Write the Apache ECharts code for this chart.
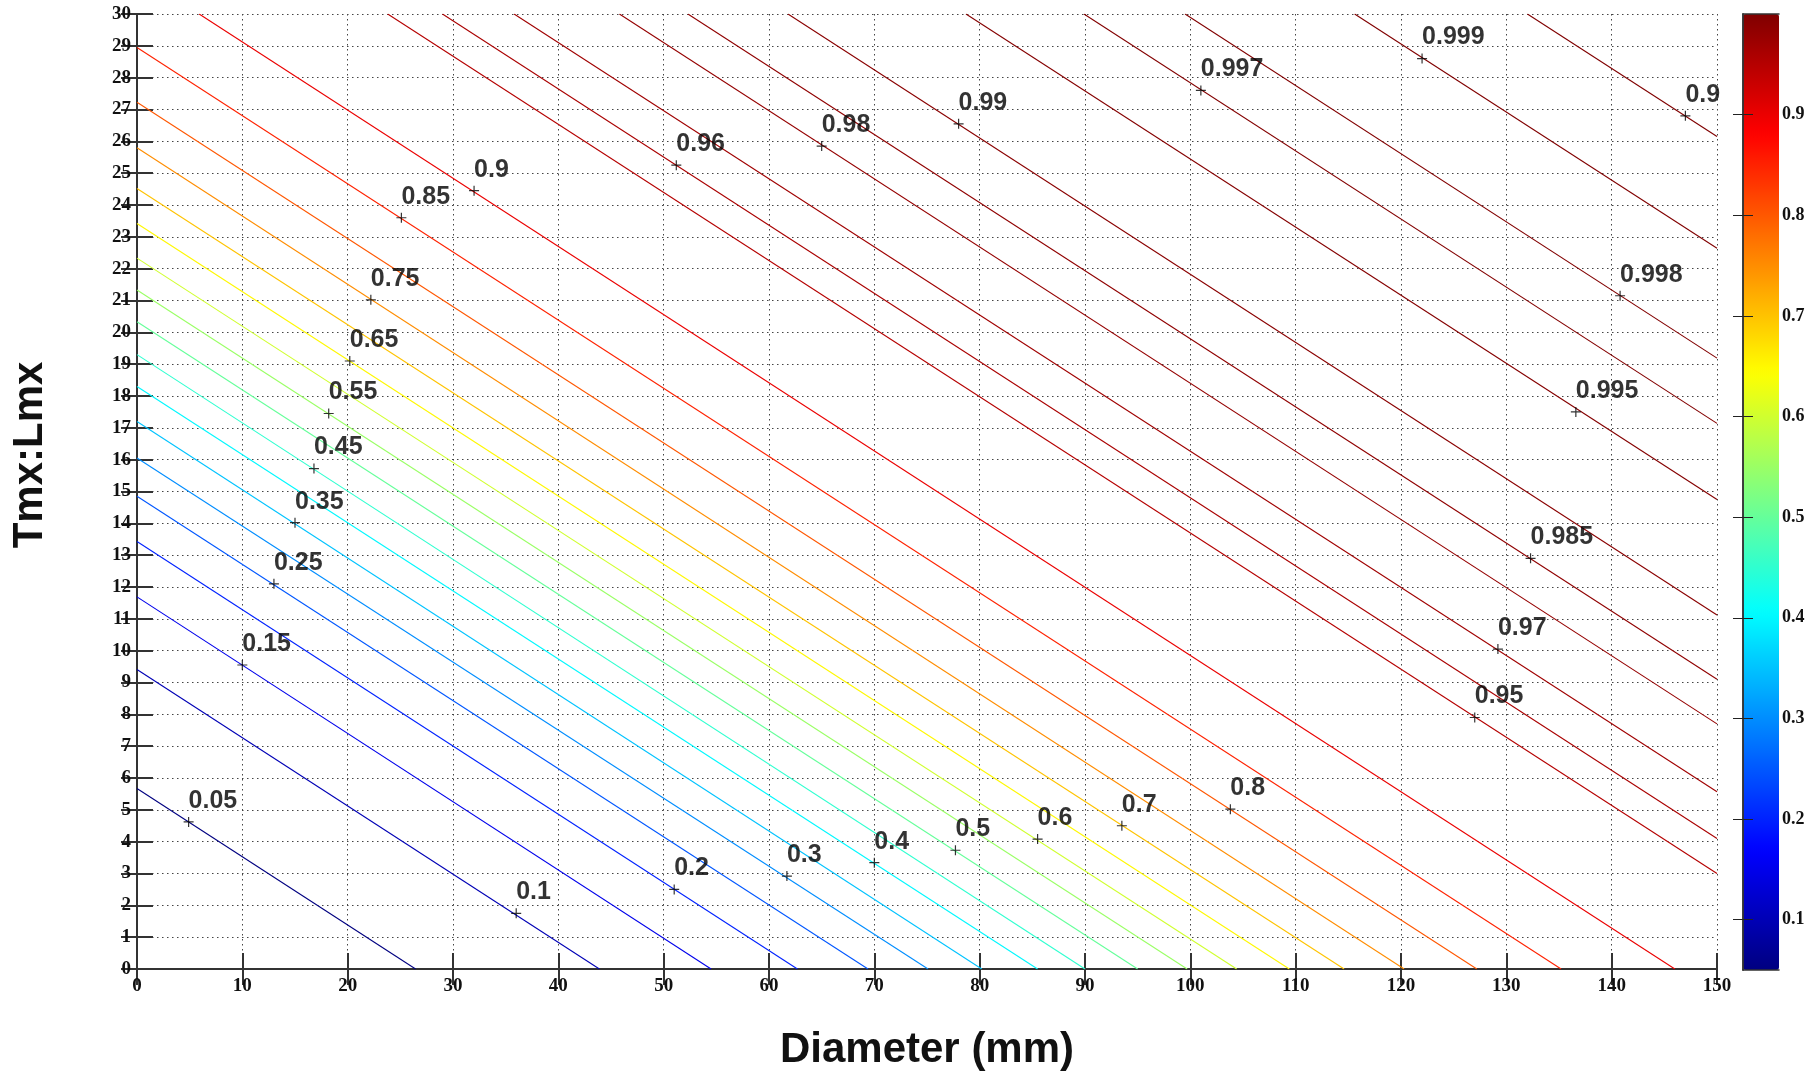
<!DOCTYPE html>
<html>
<head>
<meta charset="utf-8">
<title>Tmx:Lmx vs Diameter</title>
<script src="https://cdn.jsdelivr.net/npm/echarts@6/dist/echarts.min.js"></script>
<style>
  html, body { margin: 0; padding: 0; background: #fff; }
  #main { width: 1813px; height: 1075px; }
</style>
</head>
<body>
<div id="main"></div>
<script>
// contour levels, lowest to highest
const levels = [0.05, 0.1, 0.15, 0.2, 0.25, 0.3, 0.35, 0.4, 0.45, 0.5, 0.55, 0.6, 0.65, 0.7, 0.75, 0.8, 0.85, 0.9,
  0.95, 0.96, 0.97, 0.98, 0.985, 0.99, 0.995, 0.997, 0.998, 0.999, 0.9995];

// where each contour enters / leaves the plot box, [diameter, Tmx:Lmx]
const lineStart = [
  [0, 5.67], [0, 9.41], [0, 11.69], [0, 13.43], [0, 14.85], [0, 16.05], [0, 17.2], [0, 18.3], [0, 19.3],
  [0, 20.33], [0, 21.33], [0, 22.33], [0, 23.42], [0, 24.52], [0, 25.8], [0, 27.23], [0, 28.95], [5.9, 30],
  [23.8, 30], [29.0, 30], [35.8, 30], [45.8, 30], [52.3, 30], [61.8, 30], [78.7, 30], [89.9, 30], [99.5, 30],
  [115.6, 30], [132.0, 30]
];
const lineEnd = [
  [26.45, 0], [43.9, 0], [54.5, 0], [62.7, 0], [69.4, 0], [75.1, 0], [80.2, 0], [85.5, 0], [90.0, 0],
  [95.0, 0], [99.7, 0], [104.4, 0], [109.4, 0], [114.6, 0], [120.3, 0], [127.2, 0], [135.2, 0], [146.0, 0],
  [150, 3.0], [150, 4.1], [150, 5.57], [150, 7.7], [150, 9.1], [150, 11.12], [150, 14.75], [150, 17.14],
  [150, 19.19], [150, 22.64], [150, 26.15]
];

// inline contour labels ("0.9" at the far right is cut off by the frame in the original)
const labelText = ['0.05', '0.1', '0.15', '0.2', '0.25', '0.3', '0.35', '0.4', '0.45', '0.5', '0.55', '0.6', '0.65',
  '0.7', '0.75', '0.8', '0.85', '0.9', '0.95', '0.96', '0.97', '0.98', '0.985', '0.99', '0.995', '0.997', '0.998',
  '0.999', '0.9'];
const labelPos = [
  [4.9, 4.62], [36, 1.75], [10, 9.55], [51, 2.5], [13, 12.1], [61.7, 2.92], [15, 14.02], [70, 3.34], [16.8, 15.72],
  [77.7, 3.73], [18.2, 17.45], [85.5, 4.08], [20.2, 19.1], [93.5, 4.5], [22.2, 21.02], [103.8, 5.02], [25.1, 23.6],
  [32, 24.45], [127, 7.9], [51.2, 25.25], [129.2, 10.05], [65, 25.85], [132.3, 12.9], [78, 26.55], [136.6, 17.5],
  [101, 27.6], [140.8, 21.15], [122, 28.6], [147, 26.8]
];

const colorbarTicks = [0.1, 0.2, 0.3, 0.4, 0.5, 0.6, 0.7, 0.8, 0.9];
const cbMin = 0.05;
const cbMax = 1.0;

// matlab "jet" colormap
function jet(v) {
  const t = (v - cbMin) / (cbMax - cbMin);
  const ch = c => Math.round(255 * Math.max(0, Math.min(1, 1.5 - Math.abs(4 * t - c))));
  return 'rgb(' + ch(3) + ',' + ch(2) + ',' + ch(1) + ')';
}
const jetStops = ['#000080', '#0000ff', '#0080ff', '#00ffff', '#80ff80', '#ffff00', '#ff8000', '#ff0000', '#800000'];

const serif = '"Liberation Serif", "Times New Roman", serif';
const sans = '"Liberation Sans", Arial, sans-serif';
const frame = '#333';

const tickLabel = { fontFamily: serif, fontWeight: 'bold', fontSize: 19, color: '#111' };
const gridLine = { show: true, lineStyle: { color: '#444', width: 1, type: [1.5, 3.5] } };

const chart = echarts.init(document.getElementById('main'));

const contourSeries = levels.map((lv, i) => ({
  type: 'line',
  xAxisIndex: 0,
  yAxisIndex: 0,
  data: [lineStart[i], lineEnd[i]],
  symbol: 'none',
  silent: true,
  lineStyle: { color: jet(lv), width: 1.1 },
  z: 2
}));

const option = {
  backgroundColor: '#fff',
  animation: false,
  grid: [
    { left: 137, top: 14, width: 1580, height: 955 },
    { left: 1743, top: 14, width: 36, height: 956 }
  ],
  xAxis: [
    {
      gridIndex: 0, type: 'value', min: 0, max: 150, interval: 10, position: 'bottom',
      axisLine: { lineStyle: { color: frame, width: 2 } },
      axisTick: { inside: true, length: 16, lineStyle: { color: frame, width: 2 } },
      axisLabel: Object.assign({ margin: 8 }, tickLabel),
      splitLine: gridLine
    },
    {
      gridIndex: 0, type: 'value', min: 0, max: 150, interval: 10, position: 'top',
      axisLine: { lineStyle: { color: frame, width: 2 } },
      axisTick: { inside: true, length: 16, lineStyle: { color: frame, width: 2 } },
      axisLabel: { show: false },
      splitLine: { show: false }
    },
    {
      gridIndex: 1, type: 'value', min: 0, max: 1, position: 'bottom', z: 5,
      axisLine: { lineStyle: { color: frame, width: 1.5 } },
      axisTick: { show: false }, axisLabel: { show: false }, splitLine: { show: false }
    },
    {
      gridIndex: 1, type: 'value', min: 0, max: 1, position: 'top', z: 5,
      axisLine: { lineStyle: { color: frame, width: 1.5 } },
      axisTick: { show: false }, axisLabel: { show: false }, splitLine: { show: false }
    }
  ],
  yAxis: [
    {
      gridIndex: 0, type: 'value', min: 0, max: 30, interval: 1, position: 'left',
      axisLine: { lineStyle: { color: frame, width: 2 } },
      axisTick: { inside: true, length: 16, lineStyle: { color: frame, width: 2 } },
      axisLabel: Object.assign({ margin: 6 }, tickLabel),
      splitLine: gridLine
    },
    {
      gridIndex: 0, type: 'value', min: 0, max: 30, interval: 1, position: 'right',
      axisLine: { lineStyle: { color: frame, width: 2 } },
      axisTick: { inside: true, length: 16, lineStyle: { color: frame, width: 2 } },
      axisLabel: { show: false },
      splitLine: { show: false }
    },
    {
      gridIndex: 1, type: 'value', min: cbMin, max: cbMax, position: 'left', z: 5,
      axisLine: { lineStyle: { color: frame, width: 1.5 } },
      axisTick: { inside: true, length: 10, customValues: colorbarTicks, lineStyle: { color: '#222', width: 1 } },
      axisLabel: { show: false },
      splitLine: { show: false }
    },
    {
      gridIndex: 1, type: 'value', min: cbMin, max: cbMax, position: 'right', z: 5,
      axisLine: { lineStyle: { color: frame, width: 1.5 } },
      axisTick: { inside: true, length: 10, customValues: colorbarTicks, lineStyle: { color: '#222', width: 1 } },
      axisLabel: { margin: 3, customValues: colorbarTicks, fontFamily: serif, fontWeight: 'bold', fontSize: 18, color: '#111' },
      splitLine: { show: false }
    }
  ],
  visualMap: {
    type: 'continuous',
    min: cbMin,
    max: cbMax,
    seriesIndex: [],
    orient: 'vertical',
    left: 1743,
    top: 14,
    itemWidth: 36,
    itemHeight: 956,
    padding: 0,
    calculable: false,
    hoverLink: false,
    inRange: { color: jetStops },
    z: 1
  },
  graphic: [
    {
      type: 'text', x: 30, y: 455, rotation: Math.PI / 2,
      style: { text: 'Tmx:Lmx', fontFamily: sans, fontWeight: 'bold', fontSize: 42, fill: '#111', align: 'center', verticalAlign: 'middle' }
    },
    {
      type: 'text', x: 927, y: 1050,
      style: { text: 'Diameter (mm)', fontFamily: sans, fontWeight: 'bold', fontSize: 42, fill: '#111', align: 'center', verticalAlign: 'middle' }
    }
  ],
  series: contourSeries.concat([
    {
      type: 'scatter',
      xAxisIndex: 0,
      yAxisIndex: 0,
      silent: true,
      data: labelPos.map((p, i) => ({ value: p, name: labelText[i] })),
      symbol: 'path://M0,5H10M5,0V10',
      symbolSize: 10,
      itemStyle: { color: 'none', borderColor: '#000', borderWidth: 1.2 },
      label: {
        show: true,
        formatter: '{b}',
        position: 'top',
        align: 'left',
        verticalAlign: 'bottom',
        distance: 1,
        fontFamily: sans,
        fontWeight: 'bold',
        fontSize: 25,
        color: '#000'
      },
      z: 5
    }
  ])
};

chart.setOption(option);
</script>
</body>
</html>
